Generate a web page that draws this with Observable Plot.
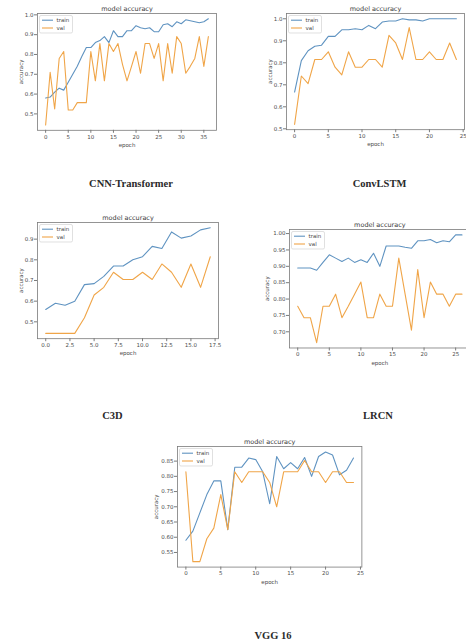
<!DOCTYPE html>
<html>
<head>
<meta charset="utf-8">
<script src="https://cdn.jsdelivr.net/npm/d3@7"></script>
<script src="https://cdn.jsdelivr.net/npm/@observablehq/plot@0.6"></script>
<style>
html,body{margin:0;padding:0;background:#fff;}
#fig{position:relative;width:466px;height:644px;overflow:hidden;background:#fff;}
.chart{position:absolute;}
.chart svg{display:block;}
.legend{position:absolute;overflow:visible;}
.caption{position:absolute;font-family:"Liberation Serif","Times New Roman",serif;font-weight:bold;font-size:10.5px;color:#2a2a2a;transform:translate(-50%,-50%);white-space:nowrap;}
</style>
</head>
<body>
<div id="fig"></div>
<script>
// ---------------- data ----------------
const seriesNames = ["train", "val"];
const plotTitle = "model accuracy";
const xLabel = "epoch";
const yLabel = "accuracy";

const cnnTrain = [0.58,0.585,0.61,0.63,0.62,0.66,0.70,0.74,0.79,0.835,0.835,0.86,0.87,0.89,0.86,0.92,0.89,0.89,0.92,0.92,0.945,0.935,0.93,0.935,0.915,0.915,0.95,0.955,0.94,0.965,0.955,0.975,0.97,0.965,0.96,0.965,0.98];
const cnnVal   = [0.444,0.71,0.525,0.78,0.815,0.52,0.52,0.557,0.557,0.557,0.815,0.667,0.855,0.667,0.855,0.815,0.855,0.75,0.667,0.74,0.815,0.705,0.855,0.855,0.78,0.855,0.667,0.855,0.705,0.89,0.855,0.705,0.74,0.78,0.89,0.74,0.89];

const convTrain = [0.667,0.81,0.855,0.875,0.88,0.92,0.92,0.95,0.95,0.955,0.95,0.97,0.955,0.985,0.99,0.99,1.0,0.995,0.995,0.99,1.0,1.0,1.0,1.0,1.0];
const convVal   = [0.52,0.74,0.705,0.815,0.815,0.85,0.78,0.745,0.85,0.78,0.78,0.815,0.815,0.78,0.925,0.89,0.815,0.96,0.815,0.815,0.85,0.815,0.815,0.89,0.815];

const c3dTrain = [0.56,0.59,0.58,0.60,0.68,0.685,0.72,0.77,0.77,0.80,0.815,0.865,0.855,0.935,0.905,0.915,0.945,0.955];
const c3dVal   = [0.444,0.444,0.444,0.444,0.52,0.63,0.667,0.74,0.705,0.705,0.74,0.705,0.78,0.74,0.667,0.78,0.667,0.815];

const lrcnTrain = [0.895,0.895,0.895,0.888,0.912,0.935,0.925,0.915,0.925,0.912,0.92,0.912,0.94,0.90,0.962,0.962,0.962,0.958,0.955,0.978,0.978,0.982,0.972,0.978,0.975,0.996,0.996];
const lrcnVal   = [0.778,0.743,0.743,0.667,0.778,0.778,0.815,0.743,0.778,0.815,0.852,0.743,0.743,0.815,0.778,0.778,0.925,0.815,0.705,0.89,0.743,0.852,0.815,0.815,0.778,0.815,0.815];

const vggTrain = [0.59,0.62,0.68,0.74,0.785,0.785,0.625,0.83,0.83,0.86,0.855,0.815,0.71,0.865,0.825,0.845,0.825,0.862,0.80,0.865,0.88,0.87,0.805,0.82,0.86];
const vggVal   = [0.815,0.52,0.52,0.595,0.63,0.74,0.625,0.815,0.78,0.815,0.815,0.815,0.78,0.70,0.815,0.815,0.815,0.852,0.815,0.815,0.78,0.815,0.815,0.78,0.78];

// tick values
const xTicksCnn  = [0,5,10,15,20,25,30,35];
const xTicks25   = [0,5,10,15,20,25];
const xTicksC3d  = [0,2.5,5,7.5,10,12.5,15,17.5];
const yTicksTenths = [0.5,0.6,0.7,0.8,0.9,1.0];
const yTicksC3d  = [0.5,0.6,0.7,0.8,0.9];
const yTicksLrcn = [0.70,0.75,0.80,0.85,0.90,0.95,1.00];
const yTicksVgg  = [0.55,0.60,0.65,0.70,0.75,0.80,0.85];

const captionNames = ["CNN-Transformer","ConvLSTM","C3D","LRCN","VGG 16"];

// ---------------- layout ----------------
const BLUE = "#5f93c1", ORANGE = "#f0a548";
const TEXT = "#4a4a4a", SPINE = "#7a7a7a";
const FONT = "DejaVu Sans";

const charts = [
  {train: cnnTrain,  val: cnnVal,  frame: [37, 216, 12.6, 129.4],  xticks: xTicksCnn, xfmt: "d",   yticks: yTicksTenths, yfmt: ".1f", ylab: -16.3},
  {train: convTrain, val: convVal, frame: [286, 464, 12.8, 129],   xticks: xTicks25,  xfmt: "d",   yticks: yTicksTenths, yfmt: ".1f", ylab: -16},
  {train: c3dTrain,  val: c3dVal,  frame: [37, 218, 222.4, 338.6], xticks: xTicksC3d, xfmt: ".1f", yticks: yTicksC3d,    yfmt: ".1f", ylab: -16.3},
  {train: lrcnTrain, val: lrcnVal, frame: [288.8, 469.5, 228.5, 347], xticks: xTicks25, xfmt: "d", yticks: yTicksLrcn,  yfmt: ".2f", ylab: -22},
  {train: vggTrain,  val: vggVal,  frame: [176.6, 361, 446, 566.6], xticks: xTicks25, xfmt: "d",   yticks: yTicksVgg,    yfmt: ".2f", ylab: -21.6}
];
const captionPos = [[131,183],[379.5,183],[112.5,415],[378,415],[273,635]];

const fig = document.getElementById("fig");

function drawChart(c) {
  const [fx0, fx1, fy0, fy1] = c.frame;
  const ML = 42, MR = 8, MT = 18, MB = 26;
  const W = fx1 - fx0 + ML + MR, H = fy1 - fy0 + MT + MB;
  const rows = (arr, s) => arr.map((v, i) => ({epoch: i, acc: v, series: s}));
  const tr = rows(c.train, seriesNames[0]);
  const va = rows(c.val, seriesNames[1]);
  const n = c.train.length - 1;
  const all = c.train.concat(c.val);
  const lo = d3.min(all), hi = d3.max(all), pad = (hi - lo) * 0.05;

  const svg = Plot.plot({
    width: W, height: H,
    marginLeft: ML, marginRight: MR, marginTop: MT, marginBottom: MB,
    style: {fontFamily: FONT, background: "transparent", overflow: "visible"},
    x: {domain: [-0.05 * n, n * 1.05]},
    y: {domain: [lo - pad, hi + pad]},
    marks: [
      Plot.line(tr, {x: "epoch", y: "acc", stroke: BLUE, strokeWidth: 1.1}),
      Plot.line(va, {x: "epoch", y: "acc", stroke: ORANGE, strokeWidth: 1.1}),
      Plot.frame({stroke: SPINE, strokeWidth: 0.8}),
      Plot.axisX({ticks: c.xticks, tickFormat: d3.format(c.xfmt), tickSize: 3, tickPadding: 1.5,
                  fontSize: 5.5, stroke: SPINE, fill: TEXT, label: null}),
      Plot.axisY({ticks: c.yticks, tickFormat: d3.format(c.yfmt), tickSize: 3, tickPadding: 1,
                  fontSize: 5.5, stroke: SPINE, fill: TEXT, label: null}),
      Plot.text([plotTitle], {text: d => d, frameAnchor: "top", dy: -2.5, lineAnchor: "bottom",
                  fontSize: 6.5, fill: "#3a3a3a"}),
      Plot.text([xLabel], {text: d => d, frameAnchor: "bottom", dy: 14.8, lineAnchor: "middle",
                  fontSize: 5.5, fill: TEXT}),
      Plot.text([yLabel], {text: d => d, frameAnchor: "left", dx: c.ylab, rotate: -90,
                  textAnchor: "middle", lineAnchor: "middle", fontSize: 5.5, fill: TEXT})
    ]
  });

  const div = document.createElement("div");
  div.className = "chart";
  div.style.left = (fx0 - ML) + "px";
  div.style.top = (fy0 - MT) + "px";
  div.style.width = W + "px";
  div.style.height = H + "px";
  div.appendChild(svg);
  fig.appendChild(div);

  // legend box (upper left, inside the frame)
  const lg = d3.select(fig).append("svg").attr("class", "legend")
    .style("left", (fx0 + 2) + "px").style("top", (fy0 + 2) + "px")
    .attr("width", 36).attr("height", 20);
  lg.append("rect").attr("x", 0.5).attr("y", 0.5).attr("width", 33).attr("height", 17.5).attr("rx", 1.5)
    .attr("fill", "white").attr("fill-opacity", 0.85).attr("stroke", "#d2d2d2").attr("stroke-width", 0.7);
  [[seriesNames[0], BLUE], [seriesNames[1], ORANGE]].forEach(([t, col], i) => {
    const y = 5.2 + i * 7.8;
    lg.append("line").attr("x1", 3).attr("x2", 14).attr("y1", y).attr("y2", y)
      .attr("stroke", col).attr("stroke-width", 1.1);
    lg.append("text").attr("x", 17.5).attr("y", y).attr("dy", "0.35em")
      .attr("font-size", 5.5).attr("font-family", FONT).attr("fill", TEXT).text(t);
  });
}

charts.forEach(drawChart);

captionNames.forEach((name, i) => {
  const d = document.createElement("div");
  d.className = "caption";
  d.style.left = captionPos[i][0] + "px";
  d.style.top = captionPos[i][1] + "px";
  d.textContent = name;
  fig.appendChild(d);
});
</script>
</body>
</html>
